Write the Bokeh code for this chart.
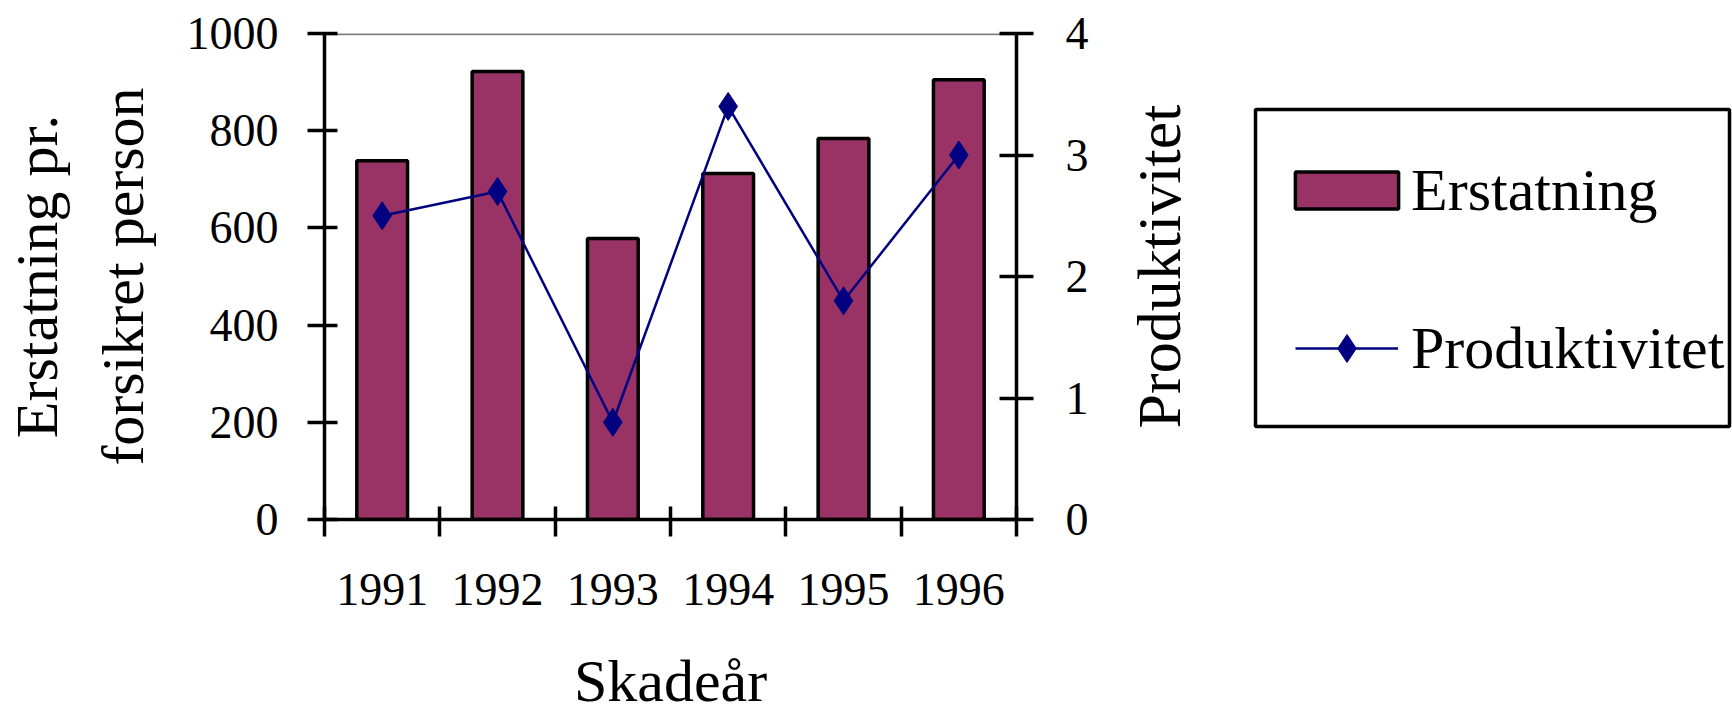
import math
from bokeh.plotting import figure
from bokeh.layouts import row
from bokeh.models import (Range1d, LinearAxis, FixedTicker, Span, Legend, LegendItem,
                          BoxAnnotation, Label)
from bokeh.embed import file_html
from bokeh.resources import INLINE

# ---- data ----
years = ["1991", "1992", "1993", "1994", "1995", "1996"]
erstatning = [738, 922, 578, 712, 784, 905]
produktivitet = [2.5, 2.7, 0.8, 3.4, 1.8, 3.0]
left_ticks = [0, 200, 400, 600, 800, 1000]
right_ticks = [0, 1, 2, 3, 4]
series_names = ["Erstatning", "Produktivitet"]
left_title = "Erstatning pr.\nforsikret person"
right_title = "Produktivitet"
x_title = "Skadeår"

# ---- layout constants (page pixels) ----
W, H = 1732, 719
WM = 1100                      # width of the chart figure
FL, FR, FT, FB = 324, 1016, 33, 519
FONT = "Liberation Serif"
BAR = "#993366"
NAVY = "#000080"

xpos = [i + 0.5 for i in range(len(years))]

p = figure(width=WM, height=H, output_backend="svg", toolbar_location=None,
           x_range=Range1d(0, len(years)), y_range=Range1d(0, 1000),
           min_border_left=FL, min_border_right=WM - FR,
           min_border_top=FT, min_border_bottom=H - FB)
p.title.visible = False
p.outline_line_color = None
p.xgrid.visible = False
p.ygrid.visible = False
p.extra_y_ranges = {"prod": Range1d(0, 4)}

p.add_layout(Span(location=1000, dimension="width", line_color="#808080",
                  line_width=3.5, level="underlay"))

bars = p.vbar(x=xpos, top=erstatning, width=0.44, bottom=0,
              fill_color=BAR, line_color="black", line_width=3.5)
p.line(xpos, produktivitet, y_range_name="prod", line_color=NAVY, line_width=2.5)
p.scatter(xpos, produktivitet, y_range_name="prod", marker="diamond", size=28,
          fill_color=NAVY, line_color=NAVY)

def style_axis(ax):
    ax.axis_line_color = "black"
    ax.axis_line_width = 3.5
    ax.major_tick_line_color = "black"
    ax.major_tick_line_width = 3.5
    ax.minor_tick_line_color = None
    ax.major_label_text_font = FONT
    ax.major_label_text_font_size = "46px"
    ax.major_label_text_color = "black"
    ax.axis_label_text_font = FONT
    ax.axis_label_text_font_size = "60px"
    ax.axis_label_text_font_style = "normal"
    ax.axis_label_text_color = "black"

xa = p.xaxis[0]
style_axis(xa)
xa.ticker = FixedTicker(ticks=xpos, minor_ticks=list(range(len(years) + 1)))
xa.major_label_overrides = {x: y for x, y in zip(xpos, years)}
xa.major_tick_in = 0
xa.major_tick_out = 0
xa.minor_tick_line_color = "black"
xa.minor_tick_line_width = 3.5
xa.minor_tick_in = 13
xa.minor_tick_out = 17
xa.major_label_standoff = 37
xa.axis_label = x_title
xa.axis_label_standoff = 40

ya = p.yaxis[0]
style_axis(ya)
ya.ticker = FixedTicker(ticks=left_ticks)
ya.major_tick_in = 13
ya.major_tick_out = 17
ya.major_label_standoff = 29
ya.axis_label = left_title
ya.axis_label_standoff = 28
ya.axis_label_text_line_height = 1.29

ra = LinearAxis(y_range_name="prod", ticker=FixedTicker(ticks=right_ticks))
style_axis(ra)
ra.major_tick_in = 17
ra.major_tick_out = 17
ra.major_label_standoff = 32
p.add_layout(ra, "right")

# ---- second figure: right title and legend ----
W2 = W - WM
FH = FB - FT                     # frame height shared by both figures
# legend marker position inside q's frame (pixels from frame left / bottom)
MX, MY = 1346.5 - WM, FB - 348
SX, SY = 1e5, 1e6                # very wide ranges: the series collapse to one point
q = figure(width=W2, height=H, output_backend="svg", toolbar_location=None,
           x_range=Range1d(3.0 - MX / W2 * SX, 3.0 - MX / W2 * SX + SX),
           y_range=Range1d(-MY / FH * SY, -MY / FH * SY + SY),
           x_axis_location=None, y_axis_location=None,
           min_border_left=0, min_border_right=0,
           min_border_top=FT, min_border_bottom=H - FB)
q.title.visible = False
q.xgrid.visible = False
q.ygrid.visible = False
q.outline_line_color = None

# same series, collapsed under the legend's own marker: used for the legend swatches
lb = q.vbar(x=xpos, top=erstatning, width=0.44, fill_color=BAR,
            line_color="black", line_width=3.5, level="image")
ll = q.line(xpos, produktivitet, line_color=NAVY, line_width=2.5, level="image")
ls = q.scatter(xpos, produktivitet, marker="diamond", size=28,
               fill_color=NAVY, line_color=NAVY, level="image")

# plain white cover over q's frame, drawn above the collapsed series
q.add_layout(BoxAnnotation(left=0, right=W2, top=FH, bottom=0,
                           left_units="screen", right_units="screen",
                           top_units="screen", bottom_units="screen",
                           fill_color="white", fill_alpha=1.0,
                           line_color=None, level="underlay"))

q.add_layout(Label(x=1158 - WM, y=FB - 266, x_units="screen", y_units="screen",
                   text=right_title, angle=math.pi / 2, text_align="center",
                   text_baseline="alphabetic", text_font=FONT,
                   text_font_size="62px", text_color="black"))

q.add_layout(BoxAnnotation(left=1255 - WM, right=1729 - WM,
                           top=FB - 109, bottom=FB - 426,
                           left_units="screen", right_units="screen",
                           top_units="screen", bottom_units="screen",
                           fill_color=None, fill_alpha=0,
                           line_color="black", line_alpha=1.0, line_width=3.5))

common = dict(margin=0, padding=0, border_line_color=None, background_fill_alpha=0,
              label_text_font=FONT, label_text_font_size="60px",
              label_text_color="black")
# bar swatch item (area swatch is drawn inset by 10 %)
legend1 = Legend(items=[LegendItem(label=series_names[0], renderers=[lb])],
                 location=(1282 - WM, FB - (154 + 72)),
                 glyph_width=129, glyph_height=46, label_height=72,
                 label_standoff=0, label_text_baseline="alphabetic", **common)
# line item: line at y=348, item 70 high
legend2 = Legend(items=[LegendItem(label=series_names[1], renderers=[ll, ls])],
                 location=(1295 - WM, FB - (348 + 35)),
                 glyph_width=103, glyph_height=70, label_height=70,
                 label_standoff=13, label_text_baseline="middle", **common)
q.add_layout(legend1)
q.add_layout(legend2)

open("out.html", "w").write(file_html(row(p, q), INLINE))
